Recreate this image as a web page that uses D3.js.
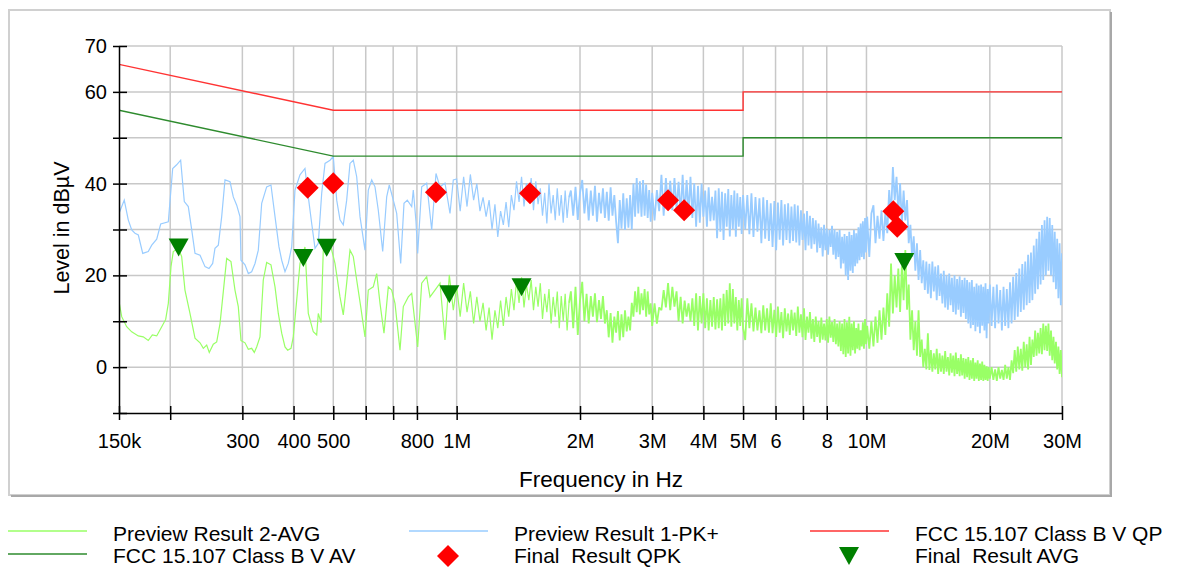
<!DOCTYPE html>
<html>
<head>
<meta charset="utf-8">
<title>Conducted emission FCC 15.107</title>
<script src="https://d3js.org/d3.v7.min.js"></script>
<style>
  body { margin: 0; background: #fff; }
  svg { display: block; }
</style>
</head>
<body>
<div id="chart"></div>
<script>
"use strict"

const FONT = "'Liberation Sans', Arial, Helvetica, sans-serif";

// limit lines, frequency in kHz, level in dBuV
const qpLimitFreq = [150, 500, 5000, 5000, 30000];
const qpLimitLevel = [66, 56, 56, 60, 60];
const avLimitFreq = [150, 500, 5000, 5000, 30000];
const avLimitLevel = [56, 46, 46, 50, 50];

// final results (kHz, dBuV)
const qpkFreq = [433, 500, 890, 1510, 3280, 3590, 11630, 11890];
const qpkLevel = [39.1, 40.1, 38.1, 37.9, 36.4, 34.2, 34.0, 30.6];
const avgFreq = [209.7, 422.6, 481.8, 960, 1440, 12370];
const avgLevel = [26.1, 23.8, 26.0, 15.9, 17.4, 22.9];

// preview 1 PK+, 150 kHz .. 1 MHz (kHz)
const pkLowFreq = [150, 154.5, 158, 161.1, 164.1, 167.2, 171.4, 176.8, 180.3, 185.4,
  189.6, 197.9, 202.8, 207.4, 212.1, 216.5, 221.4, 225.7, 229.9, 236.5,
  243.2, 248.7, 253.9, 257.2, 262.1, 267.1, 272.1, 279.9, 285.1, 290.6,
  296, 297.7, 304.5, 310.2, 316.1, 322.1, 328.1, 334.4, 343.9, 352.3,
  360.4, 368.5, 374.2, 381.2, 388.3, 395.8, 403.2, 414.7, 426.5, 434.5,
  442.9, 451.2, 459.6, 468.5, 477.3, 490.9, 500, 509.7, 519.2, 528.9,
  539.1, 549.2, 559.5, 570.3, 581, 597.5, 608.7, 620.5, 632.1, 643.9,
  660, 675, 684.9, 700.5, 714, 730.2, 743.9, 757.8, 776.8, 783.8,
  795.8, 803.4, 821.7, 845.1, 869.2, 890.4, 910.7, 936.6, 963.3, 981.3];
const pkLowLevel = [33.5, 36.4, 32.1, 29.9, 29.2, 28.8, 24.8, 25.2, 26.6, 27.9,
  31.2, 31.7, 43.3, 44.1, 45.1, 36.1, 35, 29.9, 24.8, 24.4,
  21.9, 21.5, 22.6, 25.9, 26.6, 32.8, 40.8, 40.4, 37.1, 35.3,
  32.8, 23.3, 22.3, 20.4, 20.8, 22.6, 25.5, 35.7, 39.3, 39.7,
  32.8, 26.2, 23.3, 20.8, 22.6, 26.2, 38.6, 41.9, 43.3, 37.1,
  31.3, 25.9, 27, 37.9, 44.4, 45.1, 45.9, 36.4, 32.1, 31,
  36.4, 44.4, 45.1, 41.5, 32.8, 25.5, 38.6, 40.8, 39.3, 34.2,
  25.2, 37.1, 39.7, 36.4, 33.5, 22.6, 35.7, 36.4, 35, 38.6,
  31.7, 24.8, 39.3, 40.1, 29.9, 42.2, 39.3, 40.1, 33.5, 40.8];

// preview 2 AVG, 150 kHz .. 1 MHz (kHz)
const avLowFreq = [150, 152.3, 156.6, 161.1, 167.2, 171.9, 176.8, 180.9, 185.4, 190.7,
  195, 197.9, 200.9, 203.5, 209.3, 213.3, 217.3, 223.5, 229.9, 236.5,
  240.9, 245.5, 249.1, 254.8, 259.7, 264.6, 269.5, 274.7, 281.4, 287.8,
  293.2, 297.7, 304.5, 310.2, 316.1, 320.8, 325.1, 331.2, 337.4, 343.9,
  352.3, 360.4, 367.1, 374.2, 381.2, 387, 394.3, 399.4, 407.1, 414.7,
  426.5, 434.5, 446.9, 455.5, 459.6, 466.7, 472.7, 486.2, 490.9, 504.8,
  519.2, 528.9, 539.1, 549.2, 559.5, 570.3, 583.3, 597.5, 608.7, 626,
  638.1, 650.1, 664.8, 681.1, 694.2, 707.2, 727.4, 741, 762.1, 776.8,
  788.2, 803.4, 821.7, 845.1, 860.9, 885.4, 910.7, 936.6, 959.5, 981.3];
const avLowLevel = [14.3, 11, 8.8, 7.7, 6.8, 6.6, 5.8, 7, 6.8, 8.8,
  10.4, 13.9, 21.9, 25.2, 25.9, 24.1, 16.8, 11.7, 6.3, 5.3,
  4.1, 4.8, 3.2, 5, 5.5, 9.5, 16.4, 23.7, 23, 16.8,
  13.2, 5.8, 5.3, 3.9, 4.1, 3.2, 4.4, 6.6, 19, 22.8,
  22.3, 17.5, 11.7, 7.4, 4.4, 3.7, 4.1, 6.6, 14.6, 22.6,
  26.2, 11.7, 7.7, 7, 11.7, 9.7, 25.5, 27.7, 27, 22.6,
  15.3, 11.4, 18.3, 25.5, 24.1, 19, 13.2, 6.6, 16.8, 17.5,
  20.4, 13.9, 7.4, 17.5, 16.8, 13.9, 3.7, 13.2, 15.3, 16.1,
  11, 4.4, 18.3, 19.7, 15.3, 16.8, 18.3, 5.9, 20.1, 12.4];

// both previews, 1 .. 1.88 MHz (kHz)
const midFreq = [1000, 1020, 1040, 1060, 1080, 1100, 1120, 1140, 1160, 1180,
  1200, 1220, 1240, 1260, 1280, 1300, 1320, 1340, 1360, 1380,
  1400, 1420, 1440, 1460, 1480, 1500, 1520, 1540, 1560, 1580,
  1600, 1620, 1640, 1660, 1680, 1700, 1720, 1740, 1760, 1780,
  1800, 1820, 1840, 1860, 1880];
const pkMidLevel = [41, 34, 41.5, 35, 42, 36.4, 40, 34, 37, 32.8,
  36.4, 30, 35.5, 28.4, 34, 31, 36, 30.5, 37.5, 34.2,
  40.5, 36, 41.5, 35, 40.1, 37.1, 41.2, 34.2, 40.5, 35.5,
  39, 33, 38, 31.3, 40, 33.5, 37.5, 32, 39, 33,
  37.5, 31.5, 38.5, 32.5, 37];
const avMidLevel = [17.5, 11, 18.3, 12, 16.5, 9.5, 15.3, 10, 14, 8,
  13, 6, 12.4, 8.5, 14.5, 9, 15.3, 11, 17, 12.4,
  19, 14, 19.6, 13, 18, 14.6, 19, 12.4, 17.5, 13.2,
  18.3, 10.5, 16, 12, 17, 9.5, 15.3, 11, 16.5, 8.5,
  15.5, 10, 16, 8, 14];

// both previews, 1.9 .. 30 MHz (MHz)
const hiFreq = [
  1.9, 1.925, 1.95, 1.975, 2, 2.025, 2.05, 2.075, 2.1, 2.125, 2.15, 2.175, 2.2, 2.225, 2.25,
  2.275, 2.3, 2.325, 2.35, 2.375, 2.4, 2.425, 2.45, 2.475, 2.5, 2.525, 2.55, 2.575, 2.6, 2.625,
  2.65, 2.675, 2.7, 2.725, 2.75, 2.775, 2.8, 2.825, 2.85, 2.875, 2.9, 2.925, 2.95, 2.975, 3,
  3.04, 3.08, 3.12, 3.16, 3.2, 3.24, 3.28, 3.32, 3.36, 3.4, 3.44, 3.48, 3.52, 3.56, 3.6,
  3.64, 3.68, 3.72, 3.76, 3.8, 3.84, 3.88, 3.92, 3.96, 4, 4.04, 4.08, 4.12, 4.16, 4.2,
  4.24, 4.28, 4.32, 4.36, 4.4, 4.44, 4.48, 4.52, 4.56, 4.6, 4.64, 4.68, 4.72, 4.76, 4.8,
  4.84, 4.88, 4.92, 4.96, 5,
  5.06, 5.12, 5.18, 5.24, 5.3, 5.36, 5.42, 5.48, 5.54, 5.6, 5.66, 5.72, 5.78, 5.84, 5.9,
  5.96, 6.02, 6.08, 6.14, 6.2, 6.26, 6.32, 6.38, 6.44, 6.5, 6.56, 6.62, 6.68, 6.74, 6.8,
  6.86, 6.92, 6.98, 7.04, 7.1, 7.16, 7.22, 7.28, 7.34, 7.4, 7.46, 7.52, 7.58, 7.64, 7.7,
  7.76, 7.82, 7.88, 7.94, 8, 8.06, 8.12, 8.18, 8.24, 8.3, 8.36, 8.42, 8.48, 8.54, 8.6,
  8.66, 8.72, 8.78, 8.84, 8.9, 8.96, 9.02, 9.08, 9.14, 9.2, 9.26, 9.32, 9.38, 9.44, 9.5,
  9.56, 9.62, 9.68, 9.74, 9.8, 9.86, 9.92, 9.98, 10.04,
  10.16, 10.28, 10.4, 10.52, 10.64, 10.76, 10.88, 11, 11.12, 11.24, 11.36, 11.48, 11.6, 11.72, 11.84,
  11.96, 12.08, 12.2, 12.32, 12.44, 12.56, 12.68, 12.8, 12.92, 13.04, 13.16, 13.28, 13.4, 13.52, 13.64,
  13.76, 13.88, 14, 14.12, 14.24, 14.36, 14.48, 14.6, 14.72, 14.84, 14.96, 15.08, 15.2, 15.32, 15.44,
  15.56, 15.68, 15.8, 15.92, 16.04, 16.16, 16.28, 16.4, 16.52, 16.64, 16.76, 16.88, 17, 17.12, 17.24,
  17.36, 17.48, 17.6, 17.72, 17.84, 17.96, 18.08, 18.2, 18.32, 18.44, 18.56, 18.68, 18.8, 18.92, 19.04,
  19.16, 19.28, 19.4, 19.52, 19.64, 19.76, 19.88, 20,
  20.2, 20.4, 20.6, 20.8, 21, 21.2, 21.4, 21.6, 21.8, 22, 22.2, 22.4, 22.6, 22.8, 23,
  23.2, 23.4, 23.6, 23.8, 24, 24.2, 24.4, 24.6, 24.8, 25, 25.2, 25.4, 25.6, 25.8, 26,
  26.2, 26.4, 26.6, 26.8, 27, 27.2, 27.4, 27.6, 27.8, 28, 28.2, 28.4, 28.6, 28.8, 29,
  29.2, 29.4, 29.6, 29.8, 30];

const pkHiLevel = [
  38.5, 33, 39.3, 32.1, 38, 40.8, 33.5, 39, 32, 38.5, 33, 39.5, 31.7, 38, 33.5,
  39, 32.5, 38.2, 31.9, 39.2, 33, 37.5, 31.7, 27, 36.4, 30.2, 37.9, 29.9, 36.8, 30.4,
  37.5, 30, 40, 32.8, 41.2, 33.5, 40.5, 32.8, 40.8, 33, 39.8, 32.5, 38.6, 31.7, 38,
  32, 38.6, 34, 41.9, 33, 41.2, 35, 40.6, 34.2, 41.2, 34.5, 40.4, 33.2, 41.9, 33,
  40.8, 33.5, 41.5, 32.5, 40.1, 30.6, 39.5, 31.5, 40, 32.8, 38.5, 30.6, 39.2, 31.8, 37.1,
  32, 38.5, 28.1, 39, 29.5, 38.2, 27.7, 37.9, 30.6, 38.8, 28.5, 37.5, 30, 38.5, 28.4,
  37.9, 30.6, 37.1, 29, 37.5,
  30, 37.5, 29, 37.9, 28.4, 37.1, 29.5, 36.8, 27, 37, 28, 36.4, 27.5, 35.7, 26.2,
  36.2, 25.5, 35.9, 27.8, 36.4, 26.5, 35.5, 27.7, 35.7, 27, 35, 27.5, 35.5, 27.2, 35.2,
  26.5, 34.2, 27.7, 33.5, 25.5, 34, 26.5, 33, 25.8, 32.5, 26.8, 32, 25, 31.3, 26,
  30.5, 24.1, 31, 25.5, 30.2, 24.5, 29.9, 26.2, 30.8, 24.5, 30, 23.5, 29.5, 24, 29.9,
  21.5, 28.4, 22.6, 29, 20, 28.6, 19, 29.5, 21, 28.8, 20.5, 29.9, 22, 29.2, 22.6,
  30.5, 23.3, 31.3, 24, 31.8, 23.5, 32.5, 25, 32.8,
  24, 33.5, 35.3, 27, 33, 28, 34.2, 27.5, 33.8, 29.2, 38.6, 33, 43.6, 36.4, 41.5,
  33.5, 40.1, 31.3, 38.5, 32, 36.4, 27, 31, 24, 28.5, 21, 27, 19, 25.5, 18.3,
  23.3, 16.8, 23, 16, 22.5, 15, 23, 16.5, 21.9, 14.6, 22.2, 15.5, 20.4, 13.9, 21,
  13, 20, 12.5, 20.4, 13.5, 19.5, 12, 20, 11.5, 19.2, 12.5, 19.8, 11, 19, 11.8,
  19.5, 10.5, 19, 9.5, 18.5, 8.5, 19, 9.2, 17.5, 7.8, 18.2, 8.8, 17.8, 7.4, 18,
  9, 17.5, 8, 18.3, 6.3, 17, 9.5, 18,
  9, 17.5, 8.5, 18, 9.5, 16.8, 8, 17.5, 9, 17, 8.5, 18.5, 9.5, 19.7, 10.3,
  20.5, 11, 21.5, 12, 22.5, 12.5, 23, 13.5, 24.5, 14, 25, 14.6, 26.5, 16, 28,
  17, 29.5, 18, 31, 19, 32, 20, 32.8, 21, 32.5, 20, 31, 18.5, 29.5, 17,
  28, 15, 27, 13.5, 24.8];

const avHiLevel = [
  16.5, 8.5, 17.5, 7, 14.6, 18.6, 10, 16, 9.5, 15.5, 11, 16.1, 9.8, 14.6, 10.5,
  15.5, 9.5, 12.4, 6.5, 11.8, 5.3, 11, 7.5, 12.2, 5.8, 11.5, 6.5, 12.4, 7.8, 11,
  8, 14, 11, 16.5, 12, 17.5, 11.5, 16.1, 12.4, 17, 11, 16.5, 11.5, 13.9, 9,
  13.9, 9.5, 13, 12.4, 16.8, 13, 18.3, 12.4, 17.5, 13.2, 16.5, 10, 15.3, 9.5, 14.5,
  11, 13.9, 10, 15, 9, 16.1, 8, 15.5, 9.5, 16.1, 8.5, 15, 8, 14.6, 8.8,
  15.3, 8.2, 14.8, 8.5, 15, 8, 16, 9, 16.8, 9.5, 18.3, 8.8, 17, 9.5, 15.3,
  8, 14.6, 9, 15, 8.5,
  5.9, 15, 8.5, 13.9, 7.8, 13, 8, 12.4, 7.4, 13.5, 8, 12.8, 7.5, 13.9, 7.4,
  12.5, 6.6, 13.2, 7.5, 12, 6.3, 12.8, 7.8, 11.7, 7, 12.5, 8, 11.9, 6.8, 13.2,
  7.5, 11.5, 6.5, 12.8, 5.9, 11, 7.5, 12, 6.2, 10.5, 5.5, 11, 6.6, 10, 5.3,
  10.8, 6, 9.5, 5.8, 10.5, 5.3, 11, 6.4, 9.8, 5.5, 10.5, 5, 9.5, 4.5, 10,
  3.5, 9.5, 2.8, 10.5, 2.2, 9.8, 3, 11, 2.5, 9.5, 3.7, 10, 3, 8.5, 4,
  9.5, 3.7, 8, 4.5, 9.8, 4, 10.5, 5, 9,
  4, 10, 4.5, 11, 5.3, 12.4, 6, 13, 7, 16.1, 8.8, 22.6, 11.7, 20, 13,
  21.5, 12, 22, 14.6, 25.5, 12.5, 18, 6, 12.4, 3.7, 10, 2.5, 12.4, 2.2, 6,
  0, 4, -0.5, 7.4, -0.6, 3.7, -1, 3, -0.5, 4, -1.5, 3, -1, 2.5, -1.5,
  3.5, -1, 2.2, -1.8, 3, -1.2, 2.5, -2, 3.2, -1.5, 2, -2, 2.8, -1.8, 2,
  -2.5, 1.8, -2.2, 2.2, -2.8, 1.5, -2.5, 2, -3, 1, -2.5, 1.5, -3, 0.8, -2.8,
  1.2, -3, 0.5, -2.8, 0.2, -3, 0, -2.5,
  0, -2.8, -0.5, -3, 0, -2.5, -0.6, -2.8, 0.5, -2.5, 0, -2.8, 1.5, -1.3, 3.7,
  -1, 4.5, -0.5, 4, -0.8, 5.5, 0, 5, -0.5, 6.6, 0.5, 6, 2.2, 8, 2.5,
  7.5, 3, 8.5, 2.8, 9.5, 3.7, 9, 3.5, 9.5, 2.5, 8, 1.5, 6.6, 0.8, 5.5,
  -0.5, 4.5, -1.5, 3.7, -2.2];

// axes
const yTicks = [-10, 0, 10, 20, 30, 40, 50, 60, 70];
const yTickLabels = ["", "0", "", "20", "", "40", "", "60", "70"];
const xTickFreq = [150, 200, 300, 400, 500, 600, 700, 800, 1000, 2000, 3000, 4000, 5000,
  6000, 7000, 8000, 10000, 20000, 30000];
const xLabelFreq = [150, 300, 400, 500, 800, 1000, 2000, 3000, 4000, 5000, 6000, 8000, 10000, 20000, 30000];
const xLabels = ["150k", "300", "400", "500", "800", "1M", "2M", "3M", "4M", "5M", "6", "8", "10M", "20M", "30M"];

const legendNames = ["Preview Result 2-AVG", "Preview Result 1-PK+", "FCC 15.107 Class B V QP",
  "FCC 15.107 Class B V AV", "Final  Result QPK", "Final  Result AVG"];

const colPk = "#99ccff", colAv = "#99ff66", colQpLim = "#ff3333", colAvLim = "#2e8b2e";
const colDiamond = "#ff0000", colTriangle = "#008000";

const W = 1178, H = 568;
const svg = d3.select("#chart").append("svg")
  .attr("width", W).attr("height", H)
  .attr("font-family", FONT);

// frame
svg.append("rect").attr("x", 9).attr("y", 10).attr("width", 1101).attr("height", 485)
  .attr("fill", "#fff").attr("stroke", "#d0d0d0").attr("stroke-width", 2);
svg.append("path").attr("d", "M1111,12V496H11")
  .attr("fill", "none").attr("stroke", "#a8a8a8").attr("stroke-width", 2);

const x = d3.scaleLog().domain([150, 30000]).range([119, 1062]);
const y = d3.scaleLinear().domain([-10, 70]).range([413, 46]);

// grid
svg.append("g").selectAll("line").data(xTickFreq.slice(1)).join("line")
  .attr("x1", d => x(d)).attr("x2", d => x(d))
  .attr("y1", y(70)).attr("y2", y(-10))
  .attr("stroke", "#c8c8c8").attr("stroke-width", 1.5);
svg.append("g").selectAll("line").data(yTicks.slice(1)).join("line")
  .attr("x1", x(150)).attr("x2", x(30000))
  .attr("y1", d => y(d)).attr("y2", d => y(d))
  .attr("stroke", "#c8c8c8").attr("stroke-width", 1.5);

// traces
svg.append("clipPath").attr("id", "plot").append("rect")
  .attr("x", x(150)).attr("y", y(70)).attr("width", x(30000) - x(150)).attr("height", y(-10) - y(70));

const pkLow = pkLowFreq.map((f, i) => [f, pkLowLevel[i]])
  .concat(midFreq.map((f, i) => [f, pkMidLevel[i]]));
const avLow = avLowFreq.map((f, i) => [f, avLowLevel[i]])
  .concat(midFreq.map((f, i) => [f, avMidLevel[i]]));
// dense part starts where the low part ends
const pkHi = [pkLow[pkLow.length - 1]].concat(hiFreq.map((f, i) => [f * 1000, pkHiLevel[i]]));
const avHi = [avLow[avLow.length - 1]].concat(hiFreq.map((f, i) => [f * 1000, avHiLevel[i]]));

const line = d3.line().defined(d => d[1] != null).x(d => x(d[0])).y(d => y(d[1]));
const traces = svg.append("g").attr("clip-path", "url(#plot)");
traces.append("path").datum(pkLow).attr("d", line)
  .attr("fill", "none").attr("stroke", colPk).attr("stroke-width", 1.2);
traces.append("path").datum(pkHi).attr("d", line)
  .attr("fill", "none").attr("stroke", colPk).attr("stroke-width", 1.8).attr("stroke-linejoin", "bevel");
traces.append("path").datum(avLow).attr("d", line)
  .attr("fill", "none").attr("stroke", colAv).attr("stroke-width", 1.2);
traces.append("path").datum(avHi).attr("d", line)
  .attr("fill", "none").attr("stroke", colAv).attr("stroke-width", 1.8).attr("stroke-linejoin", "bevel");

// limits
traces.append("path").datum(qpLimitFreq.map((f, i) => [f, qpLimitLevel[i]])).attr("d", line)
  .attr("fill", "none").attr("stroke", colQpLim).attr("stroke-width", 1.4);
traces.append("path").datum(avLimitFreq.map((f, i) => [f, avLimitLevel[i]])).attr("d", line)
  .attr("fill", "none").attr("stroke", colAvLim).attr("stroke-width", 1.4);

// axes
const yAxis = svg.append("g").attr("transform", `translate(${x(150)},0)`)
  .call(d3.axisLeft(y).tickValues(yTicks).tickFormat((d, i) => yTickLabels[i])
    .tickSize(6).tickSizeOuter(0).tickPadding(6));
yAxis.attr("font-family", FONT).attr("font-size", 20);
yAxis.selectAll(".tick line").attr("x1", 8).attr("x2", -6).attr("stroke-width", 1.5);
yAxis.select(".domain").attr("stroke-width", 1.5);
yAxis.selectAll(".tick text").attr("fill", "#000");

const xAxis = svg.append("g").attr("transform", `translate(0,${y(-10)})`)
  .call(d3.axisBottom(x).tickValues(xTickFreq)
    .tickFormat(d => { const i = xLabelFreq.indexOf(d); return i < 0 ? "" : xLabels[i]; })
    .tickSize(7).tickSizeOuter(0));
xAxis.attr("font-family", FONT).attr("font-size", 20);
xAxis.selectAll(".tick line").attr("y1", -7).attr("y2", 7).attr("stroke-width", 1.5);
xAxis.select(".domain").attr("stroke-width", 1.5);
xAxis.selectAll(".tick text").attr("y", 21).attr("fill", "#000");

svg.append("text").attr("x", 601).attr("y", 487).attr("text-anchor", "middle")
  .attr("font-size", 22.5).text("Frequency in Hz");
svg.append("text").attr("transform", "translate(69,228) rotate(-90)").attr("text-anchor", "middle")
  .attr("font-size", 21.5).text("Level in dBµV");

// markers
const diamond = "M0,-11L11,0L0,11L-11,0Z";
const triangle = "M-10,-9L10,-9L0,9Z";
svg.append("g").selectAll("path").data(qpkFreq).join("path")
  .attr("d", diamond).attr("fill", colDiamond)
  .attr("transform", (d, i) => `translate(${x(d)},${y(qpkLevel[i])})`);
svg.append("g").selectAll("path").data(avgFreq).join("path")
  .attr("d", triangle).attr("fill", colTriangle)
  .attr("transform", (d, i) => `translate(${x(d)},${y(avgLevel[i])})`);

// legend
const colX = [8, 409, 810], textX = [113, 514, 915], rowY = [531, 554], baseY = [541, 563];
const symbols = ["line", "line", "line", "line", "diamond", "triangle"];
const symColors = [colAv, colPk, colQpLim, colAvLim, colDiamond, colTriangle];
const lg = svg.append("g").attr("font-size", 21);
legendNames.forEach((name, i) => {
  const c = i % 3, r = Math.floor(i / 3);
  if (symbols[i] === "line") {
    lg.append("line").attr("x1", colX[c]).attr("x2", colX[c] + 79)
      .attr("y1", rowY[r]).attr("y2", rowY[r])
      .attr("stroke", symColors[i]).attr("stroke-width", 1.5);
  } else {
    lg.append("path").attr("d", symbols[i] === "diamond" ? diamond : triangle)
      .attr("fill", symColors[i])
      .attr("transform", `translate(${colX[c] + 39},${556})`);
  }
  lg.append("text").attr("x", textX[c]).attr("y", baseY[r])
    .style("white-space", "pre").text(name);
});
</script>
</body>
</html>
